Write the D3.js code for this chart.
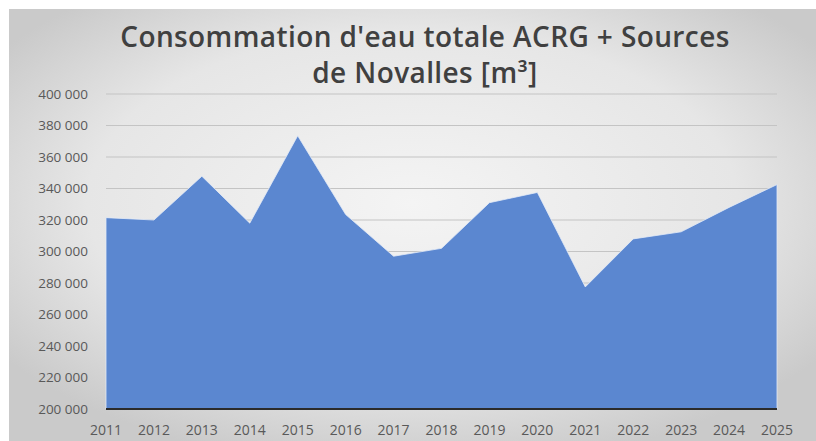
<!DOCTYPE html>
<html>
<head>
<meta charset="utf-8">
<script src="https://cdn.jsdelivr.net/npm/d3@7"></script>
<style>
  body { margin: 0; background: #fff; }
  text { font-family: "Open Sans", "Liberation Sans", sans-serif; }
</style>
</head>
<body>
<div id="chart"></div>
<script>
const years = [2011, 2012, 2013, 2014, 2015, 2016, 2017, 2018, 2019, 2020, 2021, 2022, 2023, 2024, 2025];
const consumption = [321500, 320000, 347800, 318000, 373500, 323500, 297000, 302000, 331000, 337500, 277500, 308000, 312500, 328000, 342500];
const yTicks = [200000, 220000, 240000, 260000, 280000, 300000, 320000, 340000, 360000, 380000, 400000];
const titleLines = ["Consommation d'eau totale ACRG + Sources", "de Novalles [m³]"];

let width = 816, height = 441;
let margin = {left: 106, right: 39, top: 94, bottom: 32};

let svg = d3.select("#chart")
    .append("svg")
    .attr("width", width)
    .attr("height", height);

// background panel with soft grey vignette
let defs = svg.append("defs");
let grad = defs.append("radialGradient")
    .attr("id", "bg")
    .attr("cx", "50%").attr("cy", "45%").attr("r", "62%");
grad.append("stop").attr("offset", "0%").attr("stop-color", "#f4f4f4");
grad.append("stop").attr("offset", "65%").attr("stop-color", "#e6e6e6");
grad.append("stop").attr("offset", "100%").attr("stop-color", "#cacaca");

svg.append("rect")
    .attr("x", 9).attr("y", 9)
    .attr("width", width - 9).attr("height", height - 9)
    .attr("fill", "url(#bg)");

let x = d3.scalePoint()
    .domain(years)
    .range([margin.left, width - margin.right]);

let y = d3.scaleLinear()
    .domain([200000, 400000])
    .range([height - margin.bottom, margin.top]);

let fmt = v => d3.format(",")(v).replace(/,/g, " ");

// gridlines
svg.append("g")
    .selectAll("line")
    .data(yTicks.slice(1))
    .enter()
    .append("line")
    .attr("x1", margin.left)
    .attr("x2", width - margin.right)
    .attr("y1", d => y(d))
    .attr("y2", d => y(d))
    .attr("stroke", "#c4c4c4")
    .attr("stroke-width", 1.2);

// area
let area = d3.area()
    .x((d, i) => x(years[i]))
    .y0(y(200000))
    .y1(d => y(d));

svg.append("path")
    .datum(consumption)
    .attr("d", area)
    .attr("fill", "#5b87d0")
    .attr("stroke", "#e3ebf7")
    .attr("stroke-width", 0.8);

// baseline
svg.append("line")
    .attr("x1", margin.left)
    .attr("x2", width - margin.right)
    .attr("y1", y(200000))
    .attr("y2", y(200000))
    .attr("stroke", "#2b2b2b")
    .attr("stroke-width", 2);

// y axis labels
svg.append("g")
    .selectAll("text")
    .data(yTicks)
    .enter()
    .append("text")
    .attr("x", 88)
    .attr("y", d => y(d))
    .attr("dy", "0.35em")
    .attr("text-anchor", "end")
    .style("font-size", "13.5px")
    .style("fill", "#595959")
    .text(d => fmt(d));

// x axis labels
svg.append("g")
    .selectAll("text")
    .data(years)
    .enter()
    .append("text")
    .attr("x", d => x(d))
    .attr("y", 435)
    .attr("text-anchor", "middle")
    .style("font-size", "14px")
    .style("fill", "#595959")
    .text(d => d);

// title
svg.append("g")
    .selectAll("text")
    .data(titleLines)
    .enter()
    .append("text")
    .attr("x", 425)
    .attr("y", (d, i) => 47 + i * 36)
    .attr("text-anchor", "middle")
    .style("font-size", "28px")
    .style("font-weight", 600)
    .style("letter-spacing", "0.4px")
    .style("fill", "#404040")
    .text(d => d);
</script>
</body>
</html>
